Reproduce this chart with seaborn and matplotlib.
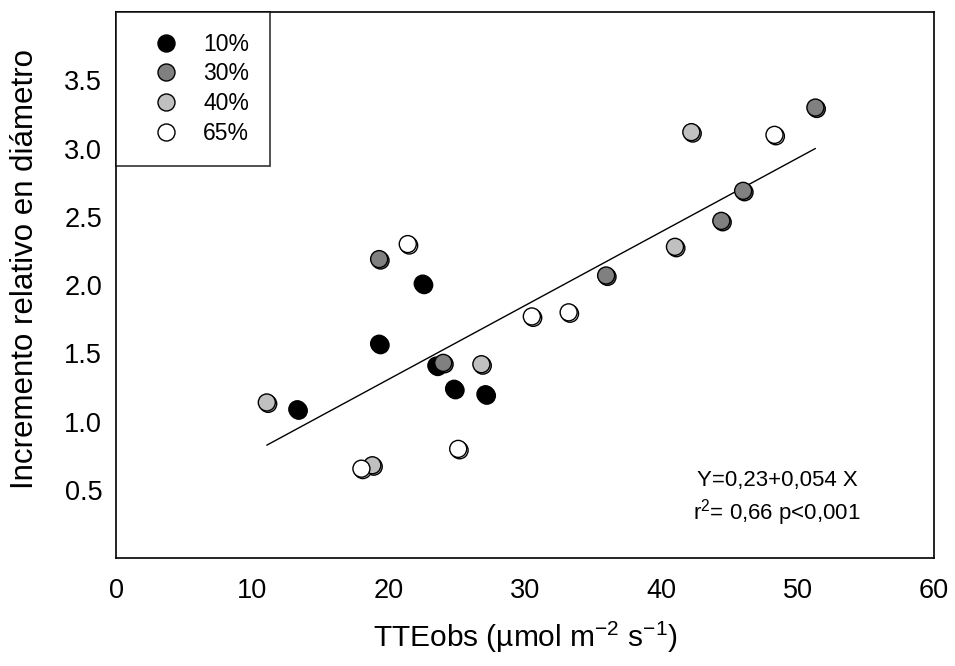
import numpy as np
import pandas as pd
import matplotlib
matplotlib.use('Agg')
import matplotlib.pyplot as plt
import matplotlib.patheffects as pe
import seaborn as sns

# data
groups = ['10%', '30%', '40%', '65%']
colors = ['#000000', '#808080', '#c0c0c0', '#ffffff']

x_10 = [13.3, 19.3, 22.5, 23.5, 24.8, 27.1]
y_10 = [1.09, 1.57, 2.01, 1.41, 1.24, 1.20]
x_30 = [19.3, 24.0, 35.95, 44.4, 46.0, 51.3]
y_30 = [2.19, 1.43, 2.07, 2.47, 2.69, 3.30]
x_40 = [11.06, 18.8, 26.8, 41.0, 42.2]
y_40 = [1.14, 0.68, 1.42, 2.28, 3.12]
x_65 = [18.0, 21.4, 25.1, 30.5, 33.2, 48.3]
y_65 = [0.655, 2.30, 0.80, 1.77, 1.80, 3.10]

# regression from the annotation
intercept = 0.23
slope = 0.054

x_ticks = [0, 10, 20, 30, 40, 50, 60]
y_ticks = [0.5, 1.0, 1.5, 2.0, 2.5, 3.0, 3.5]

df = pd.DataFrame({
    'x': x_10 + x_30 + x_40 + x_65,
    'y': y_10 + y_30 + y_40 + y_65,
    'grupo': ['10%'] * len(x_10) + ['30%'] * len(x_30)
             + ['40%'] * len(x_40) + ['65%'] * len(x_65),
})

sns.set_style('white')
plt.rcParams['font.family'] = ['Liberation Sans', 'DejaVu Sans']
plt.rcParams['mathtext.fontset'] = 'custom'
plt.rcParams['mathtext.rm'] = 'Liberation Sans'
plt.rcParams['mathtext.it'] = 'Liberation Sans'
plt.rcParams['text.color'] = 'black'
plt.rcParams['axes.labelcolor'] = 'black'

fig = plt.figure(figsize=(9.55, 6.66), dpi=100)
ax = fig.add_axes([0.1215, 0.162, 0.8565, 0.82])

fit_x = np.array([df['x'].min(), df['x'].max()])
fit = pd.DataFrame({'x': fit_x, 'y': intercept + slope * fit_x})
sns.lineplot(data=fit, x='x', y='y', color='black', lw=1.0, ax=ax, zorder=2)

sns.scatterplot(data=df, x='x', y='y', hue='grupo', hue_order=groups,
                palette=dict(zip(groups, colors)), s=150, edgecolor='black',
                linewidth=1.0, ax=ax, zorder=3)
for coll in ax.collections:
    coll.set_path_effects([pe.Stroke(offset=(1.0, -1.0), linewidth=1.0, foreground='black'),
                           pe.Normal()])

ax.set_xlim(0, 60)
ax.set_ylim(0, 4)
ax.set_xticks(x_ticks)
ax.set_yticks(y_ticks)
ax.set_xticklabels([str(t) for t in x_ticks])
ax.set_yticklabels(['%.1f' % t for t in y_ticks])
ax.tick_params(axis='both', direction='in', length=5, width=1, colors='black', labelsize=19.5)
ax.tick_params(axis='x', pad=14)
ax.tick_params(axis='y', pad=10)
for sp in ax.spines.values():
    sp.set_color('black')
    sp.set_linewidth(1.2)

ax.set_xlabel('TTEobs (µmol m$^{-2}$ s$^{-1}$)', fontsize=21.5, labelpad=12)
ax.set_ylabel('Incremento relativo en diámetro', fontsize=22.5)
ax.yaxis.set_label_coords(-0.093, 0.529)

ax.text(0.808, 0.143, 'Y=0,23+0,054 X', transform=ax.transAxes,
        ha='center', va='center', fontsize=16)
ax.text(0.808, 0.084, r'r$^2$= 0,66 p<0,001', transform=ax.transAxes,
        ha='center', va='center', fontsize=16)

handles, labels = ax.get_legend_handles_labels()
leg = ax.legend(handles, labels, loc='upper left', bbox_to_anchor=(0, 1),
                borderaxespad=0, frameon=True, fancybox=False, fontsize=16.5,
                markerscale=1.0, labelspacing=0.3, handletextpad=0.3,
                borderpad=0.9, handlelength=2.6)
leg.get_frame().set_edgecolor('black')
leg.get_frame().set_linewidth(1.2)

fig.savefig('out.png', dpi=100)
